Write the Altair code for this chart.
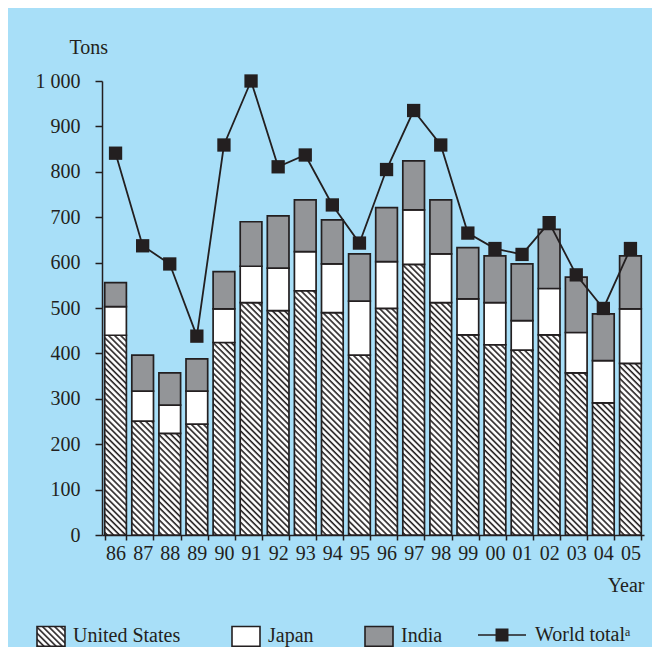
import altair as alt
import pandas as pd

years = ["86", "87", "88", "89", "90", "91", "92", "93", "94", "95",
         "96", "97", "98", "99", "00", "01", "02", "03", "04", "05"]
us = [440, 251, 224, 244, 424, 512, 494, 538, 490, 396,
      499, 596, 512, 441, 419, 407, 441, 357, 291, 378]
japan = [63, 66, 62, 73, 74, 80, 94, 86, 107, 119,
         103, 120, 107, 79, 93, 65, 102, 89, 93, 120]
india = [53, 79, 71, 71, 82, 98, 115, 114, 97, 104,
         119, 108, 119, 113, 103, 125, 130, 122, 103, 117]
world = [841, 637, 597, 438, 859, 1000, 811, 837, 727, 643,
         805, 935, 859, 665, 631, 618, 688, 573, 499, 631]

countries = ["United States", "Japan", "India"]
world_label = "World total\u1d43"
y_ticks = [0, 100, 200, 300, 400, 500, 600, 700, 800, 900, 1000]

INK = "#231f20"
BG = "#a8dff8"
GRAY = "#939598"
FONT = "Liberation Serif"

rows = []
for i, yr in enumerate(years):
    for k, (c, vals) in enumerate(zip(countries, [us, japan, india])):
        rows.append({"year": yr, "country": c, "value": vals[i], "order": k})
bars_df = pd.DataFrame(rows)
world_df = pd.DataFrame({"year": years, "total": world, "series": world_label})

x_enc = alt.X("year:N", sort=years,
              scale=alt.Scale(paddingInner=0.2, paddingOuter=0.1),
              axis=alt.Axis(title="Year", labelAngle=0, tickBand="extent",
                            tickSize=5, labelPadding=3, labelFontSize=20,
                            titleFontSize=20, titleFontWeight="normal",
                            titleAnchor="end", titleAlign="right",
                            titleBaseline="middle", titleX=542, titleY=50,
                            domainWidth=1.5, tickWidth=1.5,
                            domainColor=INK, tickColor=INK,
                            labelColor=INK, titleColor=INK, grid=False))

bars = alt.Chart(bars_df).mark_bar(stroke=INK, strokeWidth=1.7).encode(
    x=x_enc,
    y=alt.Y("value:Q", stack="zero",
            scale=alt.Scale(domain=[0, 1000], nice=False),
            axis=alt.Axis(title="Tons", values=y_ticks,
                          labelExpr="replace(format(datum.value, ',d'), ',', ' ')",
                          tickSize=7, labelPadding=15, labelFontSize=20,
                          titleFontSize=20, titleFontWeight="normal",
                          titleAngle=0, titleAlign="left",
                          titleBaseline="middle", titleX=-33, titleY=-34,
                          domainWidth=1.5, tickWidth=1.5,
                          domainColor=INK, tickColor=INK,
                          labelColor=INK, titleColor=INK, grid=False)),
    color=alt.Color("country:N",
                    scale=alt.Scale(domain=countries,
                                    range=["url(#hatch)", "white", GRAY]),
                    legend=alt.Legend(title=None, orient="none",
                                      legendX=-66, legendY=540,
                                      direction="horizontal", columns=3,
                                      symbolType="M-1,-0.71H1V0.71H-1Z",
                                      symbolSize=784, symbolStrokeColor=INK,
                                      symbolStrokeWidth=1.6,
                                      labelFontSize=20, labelColor=INK,
                                      labelOffset=7, columnPadding=47,
                                      padding=0)),
    order=alt.Order("order:Q"),
)

line = alt.Chart(world_df).mark_line(color=INK, strokeWidth=1.8).encode(
    x=alt.X("year:N", sort=years),
    y=alt.Y("total:Q"),
)

squares = alt.Chart(world_df).mark_square(size=177, opacity=1).encode(
    x=alt.X("year:N", sort=years),
    y=alt.Y("total:Q"),
    fill=alt.Fill("series:N", scale=alt.Scale(range=[INK]),
                  legend=alt.Legend(title=None, orient="none",
                                    legendX=376, legendY=530,
                                    symbolType="M-1,-0.035H1V0.035H-1Z M-0.27,-0.27H0.27V0.27H-0.27Z",
                                    symbolSize=2304, symbolStrokeWidth=0,
                                    labelFontSize=20, labelColor=INK,
                                    labelOffset=9, padding=0)),
)

chart = alt.layer(bars, line, squares).resolve_scale(
    color="independent", fill="independent"
).properties(
    width=542, height=454, background=BG,
    padding={"left": 94, "top": 73, "right": 8, "bottom": 112},
    autosize="none",
).configure(font=FONT).configure_view(stroke=None)

DEFS = (
    '<svg width="0" height="0" style="position:absolute">'
    '<defs><pattern id="hatch" patternUnits="userSpaceOnUse" width="4.3" height="4.3" '
    'patternTransform="rotate(-45)">'
    '<rect width="4.3" height="4.3" fill="white"/>'
    '<line x1="1" y1="-1" x2="1" y2="6" stroke="#231f20" stroke-width="1.6"/>'
    '</pattern></defs></svg>'
)


class HatchTemplate:
    def __init__(self):
        from altair.utils.html import TEMPLATES
        self.base = TEMPLATES["standard"]

    def render(self, **kw):
        html = self.base.render(**kw)
        return html.replace('<div id="', DEFS + '<div id="', 1)


chart.save("out.html", embed_options={"renderer": "svg", "actions": False},
           template=HatchTemplate())
